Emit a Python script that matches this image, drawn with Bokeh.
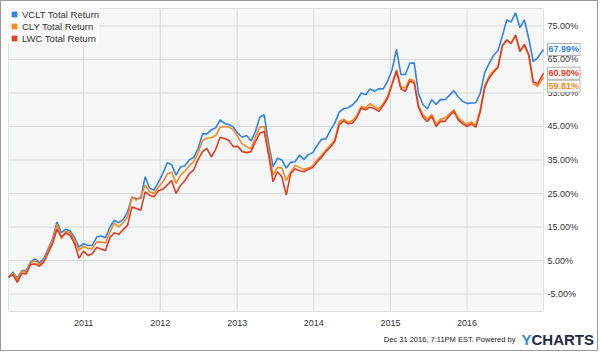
import pandas as pd
from bokeh.plotting import figure
from bokeh.models import Label, Legend, LegendItem, Range1d, BoxAnnotation
from bokeh.core.properties import value
from bokeh.embed import file_html
from bokeh.resources import INLINE

# ---------------- data ----------------
start_date = "2010-01-08"
step_days = 21
n_grid = 121
final_date = "2016-12-30"

series_names = ["VCLT Total Return", "CLY Total Return", "LWC Total Return"]

vclt = [0.0, 1.5, -0.3, 2.0, 2.0, 4.5, 5.5, 4.3, 5.5, 8.5,
        11.5, 16.5, 13.3, 14.3, 13.8, 11.8, 9.0, 10.0, 9.5, 9.5,
        12.0, 12.3, 11.8, 15.0, 17.0, 16.3, 17.2, 19.5, 23.9, 23.5,
        23.5, 30.0, 26.6, 26.0, 28.3, 31.0, 34.2, 33.6, 30.5, 32.9,
        33.3, 35.0, 35.8, 38.5, 42.8, 42.8, 44.0, 44.6, 47.0, 45.9,
        45.5, 44.8, 43.0, 41.8, 42.3, 40.7, 43.5, 47.8, 48.5, 39.8,
        33.0, 35.5, 35.0, 32.6, 34.3, 34.5, 36.5, 35.2, 36.6, 37.2,
        39.3, 41.2, 41.3, 43.9, 46.0, 49.3, 50.3, 50.6, 51.4, 52.8,
        55.0, 54.5, 56.2, 55.5, 56.3, 56.2, 58.6, 62.0, 68.0, 60.5,
        60.5, 63.9, 64.0, 54.8, 51.5, 50.3, 53.0, 51.6, 53.1, 53.0,
        54.3, 55.7, 53.8, 52.5, 51.9, 52.0, 52.1, 55.0, 61.1, 63.8,
        66.2, 67.6, 72.0, 76.8, 76.2, 78.9, 74.5, 76.8, 71.2, 64.4,
        65.5, 67.99]

cly = [0.0, 1.2, -0.8, 1.8, 1.6, 4.2, 5.0, 3.8, 5.0, 8.0,
       11.0, 15.8, 11.5, 13.8, 13.2, 11.0, 8.0, 9.2, 8.6, 8.6,
       10.5, 10.5, 10.2, 13.5, 16.2, 15.0, 16.3, 18.0, 24.0, 23.0,
       24.0, 27.5, 25.5, 25.0, 26.9, 28.5, 30.8, 31.4, 28.0, 30.5,
       31.7, 33.3, 34.5, 37.2, 40.8, 41.5, 41.7, 42.3, 44.8, 45.0,
       44.8, 44.0, 42.0, 39.8, 39.0, 38.3, 42.0, 44.8, 45.0, 38.5,
       30.5, 32.8, 32.6, 28.9, 31.3, 33.4, 32.8, 32.2, 32.6, 33.2,
       35.0, 36.4, 38.0, 39.4, 41.0, 46.5, 47.2, 46.3, 46.8, 48.2,
       51.0, 50.6, 51.8, 51.0, 50.2, 51.9, 54.0, 58.0, 62.0, 56.8,
       56.5, 59.2, 58.6, 51.2, 48.5, 47.2, 48.6, 45.6, 47.2, 47.5,
       48.8, 50.0, 47.6, 46.4, 45.6, 46.4, 45.4, 50.2, 57.2, 60.0,
       61.6, 62.8, 69.2, 70.9, 69.8, 72.2, 67.3, 69.3, 66.0, 57.8,
       57.0, 59.81]

lwc = [0.0, 0.8, -1.5, 1.2, 1.0, 3.8, 4.0, 3.3, 4.5, 7.3,
       10.0, 14.4, 12.0, 13.2, 12.5, 10.0, 5.7, 7.8, 6.5, 7.0,
       8.9, 8.4, 8.0, 11.8, 13.3, 12.8, 14.2, 15.5, 21.0, 20.5,
       20.0, 25.5, 24.5, 24.0, 25.8, 26.3, 27.5, 28.9, 25.0, 27.4,
       28.8, 30.9, 32.0, 35.2, 37.5, 38.5, 35.9, 38.2, 41.8, 41.4,
       40.8, 39.0, 39.1, 37.5, 37.2, 37.5, 40.5, 43.0, 43.5, 36.5,
       28.5, 31.5, 30.0, 24.5, 31.0, 32.4, 31.8, 31.5, 32.2, 32.8,
       34.5, 35.8, 37.5, 38.9, 40.5, 45.5, 46.7, 45.8, 46.0, 47.7,
       50.5, 50.0, 50.8, 50.3, 49.5, 51.3, 53.5, 57.5, 61.5, 56.2,
       55.5, 58.6, 58.0, 50.6, 47.8, 46.5, 48.0, 45.0, 46.6, 46.5,
       48.2, 49.5, 47.0, 45.8, 45.0, 45.8, 44.8, 49.5, 56.6, 59.5,
       61.2, 62.6, 69.0, 70.8, 69.8, 72.3, 67.5, 69.5, 66.5, 58.4,
       57.7, 60.90]

y_ticks = [-5, 5, 15, 25, 35, 45, 55, 65, 75]
x_tick_years = [2011, 2012, 2013, 2014, 2015, 2016]
footer_text = "Dec 31 2016, 7:11PM EST.  Powered by"

# ---------------- layout / style ----------------
colors = ["#2f84e4", "#f7891c", "#e23b26"]
font = "Liberation Sans"
W, H = 598, 351                     # inner canvas (1px CSS border around)
area_l, area_r, area_t, area_b = 7, 542, 7, 310   # plotting area in canvas px
plot_lo, plot_hi = -10.22, 80.22

dates = list(pd.date_range(start_date, periods=n_grid, freq=f"{step_days}D")) + [pd.Timestamp(final_date)]
ms = lambda t: pd.Timestamp(t).value / 1e6
x0, x1 = ms(start_date), ms(final_date)
mpp = (x1 - x0) / (area_r - area_l)           # ms per pixel
upp = (plot_hi - plot_lo) / (area_b - area_t)  # % per pixel

p = figure(width=W, height=H, x_axis_type="datetime",
           x_range=Range1d(x0 - area_l * mpp, x1 + (W - area_r) * mpp),
           y_range=Range1d(plot_lo - (H - area_b) * upp, plot_hi + area_t * upp),
           output_backend="svg", toolbar_location=None,
           min_border=0, border_fill_color="white", background_fill_color="white",
           outline_line_color=None)
p.axis.visible = False
p.grid.visible = False
p.styles = {"border": "1px solid #9a9a9a"}

# plotting area background + outline
p.add_layout(BoxAnnotation(left=x0, right=x1, bottom=plot_lo, top=plot_hi,
                           fill_color="#f5f6f6", fill_alpha=1.0,
                           line_color="#a8a8a8", line_width=1, level="underlay"))

# grid lines
year_ms = [ms(f"{y}-01-01") for y in x_tick_years]
p.segment(x0=year_ms, x1=year_ms, y0=plot_lo, y1=plot_hi, line_color="#dadada", line_width=1)
p.segment(x0=x0, x1=x1, y0=y_ticks, y1=y_ticks, line_color="#dadada", line_width=1)

# tick labels
p.text(x=x1, y=y_ticks, text=[f"{t:.2f}%" for t in y_ticks], x_offset=4,
       text_font=value(font), text_font_size="9px", text_color="#333333",
       text_align="left", text_baseline="middle")
p.text(x=year_ms, y=plot_lo, text=[str(y) for y in x_tick_years], y_offset=11,
       text_font=value(font), text_font_size="9px", text_color="#333333",
       text_align="center", text_baseline="middle")

# lines
all_series = [vclt, cly, lwc]
for vals, c in zip(all_series, colors):
    p.line(x=dates, y=vals, line_color=c, line_width=1.6)

# legend with square swatches (size-0 markers at last point, only the swatch shows)
items = []
for name, vals, c in zip(series_names, all_series, colors):
    r = p.scatter(x=[dates[-1]], y=[vals[-1]], size=0, marker="square",
                  fill_color=c, line_color=c)
    items.append(LegendItem(label=name, renderers=[r]))
legend = Legend(items=items, location="top_left", margin=7, padding=3, spacing=0,
                glyph_width=12, glyph_height=12, label_height=12, label_standoff=2,
                label_text_font=font, label_text_font_size="9.5px", label_text_color="#333333",
                background_fill_color="white", background_fill_alpha=0.6,
                border_line_color=None)
p.add_layout(legend)

# end value labels (avoid overlap)
finals = [(s[-1], c) for s, c in zip(all_series, colors)]
order = sorted(range(3), key=lambda i: -finals[i][0])
prev_px = None
for i in order:
    v, c = finals[i]
    py = (plot_hi - v) / upp
    shift = 0.0
    if prev_px is not None and py < prev_px + 13:
        shift = prev_px + 13 - py
    prev_px = py + shift
    p.add_layout(Label(x=x1 + 4 * mpp, y=v - shift * upp, text=f"{v:.2f}%",
                       text_color=c, text_font=font, text_font_size="9px",
                       text_font_style="bold", text_baseline="middle", text_align="left",
                       background_fill_color="white", border_line_color="#b0b0b0",
                       padding=1))

# footer
foot_y = plot_lo - 28 * upp
p.add_layout(Label(x=x1 - 26 * mpp, y=foot_y, text=footer_text,
                   text_font=font, text_font_size="7.5px", text_color="#222222",
                   text_align="right", text_baseline="middle"))
p.add_layout(Label(x=x1 - 22 * mpp, y=foot_y, text="Y",
                   text_font=font, text_font_size="15px", text_font_style="bold",
                   text_color="#2a8ae0", text_align="left", text_baseline="middle"))
p.add_layout(Label(x=x1 - 12 * mpp, y=foot_y, text="CHARTS",
                   text_font=font, text_font_size="15px", text_font_style="bold",
                   text_color="#1b2a48", text_align="left", text_baseline="middle"))

open("out.html", "w").write(file_html(p, INLINE))
